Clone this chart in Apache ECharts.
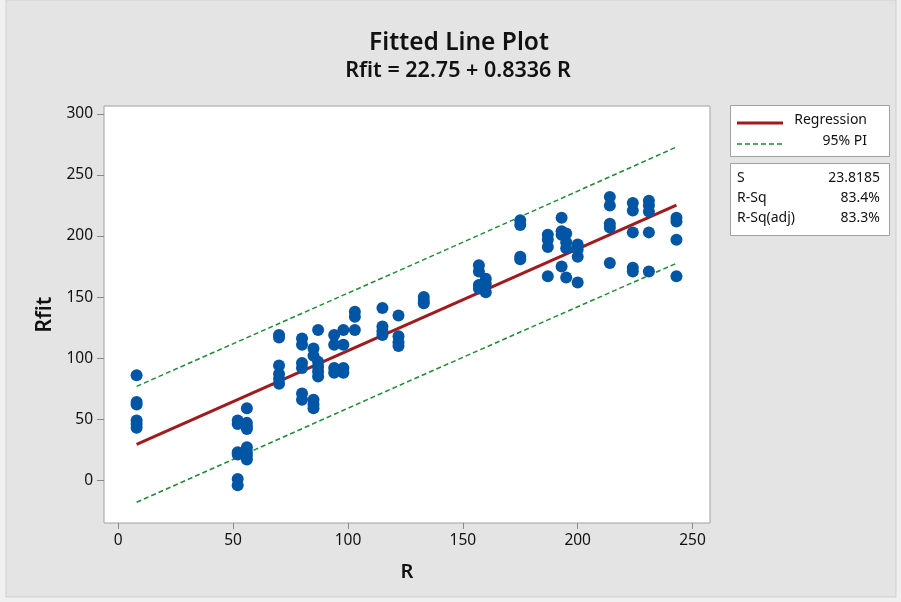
<!DOCTYPE html>
<html>
<head>
<meta charset="utf-8">
<title>Fitted Line Plot</title>
<script src="https://cdn.jsdelivr.net/npm/echarts@6/dist/echarts.min.js"></script>
<style>
  html, body { margin: 0; padding: 0; background: #f0f0f0; }
  #chart { width: 901px; height: 602px; }
</style>
</head>
<body>
<div id="chart"></div>
<script>
// Observed R levels and the Rfit responses recorded at each level
const rLevels = [8, 52, 56, 70, 80, 85, 87, 94, 98, 103, 115, 122, 133, 157, 160, 175, 187, 193, 195, 200, 214, 224, 231, 243];
const rfitAtLevel = [
  [86, 64, 62, 49, 46, 43],
  [49, 46, 23, 21, 1, -4],
  [59, 47, 44, 42, 27, 23, 20, 17],
  [119, 117, 94, 87, 83, 79],
  [116, 111, 96, 92, 71, 66],
  [108, 102, 66, 62, 59],
  [123, 97, 93, 89, 85],
  [119, 111, 92, 88],
  [123, 111, 92, 88],
  [138, 134, 123],
  [141, 126, 122, 119],
  [135, 118, 113, 110],
  [150, 147, 145],
  [176, 171, 160, 157],
  [165, 161, 154],
  [213, 209, 183, 181],
  [201, 197, 191, 167],
  [215, 204, 201, 175],
  [202, 195, 190, 166],
  [193, 189, 183, 162],
  [232, 225, 210, 207, 178],
  [227, 221, 203, 174, 171],
  [229, 225, 220, 203, 171],
  [215, 212, 197, 167]
];

// Fitted equation: Rfit = 22.75 + 0.8336 R
const intercept = 22.75;
const slope = 0.8336;
const fitRange = [8, 243];

// 95% prediction interval bounds
const piR = [8, 60, 125, 190, 243];
const piUpper = [76.9, 120.1, 174.0, 228.4, 272.9];
const piLower = [-18.0, 25.5, 79.9, 133.8, 177.7];

// Tick labels and summary statistics
const xTicks = [0, 50, 100, 150, 200, 250];
const yTicks = [0, 50, 100, 150, 200, 250, 300];
const statNames = ['S', 'R-Sq', 'R-Sq(adj)'];
const statValues = ['23.8185', '83.4%', '83.3%'];

const pointData = [];
rLevels.forEach((r, i) => rfitAtLevel[i].forEach(v => pointData.push([r, v])));
const fitData = fitRange.map(r => [r, intercept + slope * r]);
const upperData = piR.map((r, i) => [r, piUpper[i]]);
const lowerData = piR.map((r, i) => [r, piLower[i]]);

const FONT = 'Noto Sans';
const TXT = '#111111';
const RED = '#9e1b1e';
const GREEN = '#1e8c35';
const BLUE = '#0055a5';

const chart = echarts.init(document.getElementById('chart'), null, { renderer: 'canvas' });

const statTexts = [];
statNames.forEach((n, i) => {
  statTexts.push({ type: 'text', left: 737, top: 171 + i * 20,
    style: { text: n, font: '14px "' + FONT + '"', fill: TXT } });
  statTexts.push({ type: 'text', right: 901 - 880, top: 171 + i * 20,
    style: { text: statValues[i], font: '14px "' + FONT + '"', fill: TXT } });
});

chart.setOption({
  backgroundColor: '#f0f0f0',
  animation: false,
  textStyle: { fontFamily: FONT },
  grid: {
    left: 104, right: 191, top: 106, bottom: 79,
    show: true, backgroundColor: '#ffffff', borderColor: '#a0a0a0', borderWidth: 1
  },
  xAxis: {
    type: 'value', min: -6.2, max: 257.6,
    name: 'R', nameLocation: 'middle', nameGap: 39,
    nameTextStyle: { fontSize: 20, fontWeight: 600, color: TXT, fontFamily: FONT },
    splitLine: { show: false },
    axisLine: { show: false, onZero: false },
    axisTick: { show: true, length: 6, inside: false, customValues: xTicks, lineStyle: { color: '#8a8a8a' } },
    axisLabel: { customValues: xTicks, margin: 10, fontSize: 15.5, color: TXT, fontFamily: FONT }
  },
  yAxis: {
    type: 'value', min: -35, max: 306.5,
    name: 'Rfit', nameLocation: 'middle', nameGap: 48, nameRotate: 90,
    nameTextStyle: { fontSize: 21, fontWeight: 600, color: TXT, fontFamily: FONT },
    splitLine: { show: false },
    axisLine: { show: false, onZero: false },
    axisTick: { show: true, length: 7, inside: false, customValues: yTicks, lineStyle: { color: '#8a8a8a' } },
    axisLabel: { customValues: yTicks, margin: 11, fontSize: 15.5, color: TXT, fontFamily: FONT }
  },
  series: [
    {
      name: '95% PI upper', type: 'line', data: upperData, symbol: 'none', z: 2,
      lineStyle: { color: GREEN, width: 1.5, type: [5, 3] }
    },
    {
      name: '95% PI lower', type: 'line', data: lowerData, symbol: 'none', z: 2,
      lineStyle: { color: GREEN, width: 1.5, type: [5, 3] }
    },
    {
      name: 'Regression', type: 'line', data: fitData, symbol: 'none', z: 3,
      lineStyle: { color: RED, width: 3 }
    },
    {
      name: 'Rfit', type: 'scatter', data: pointData, symbol: 'circle', symbolSize: 12, z: 4,
      itemStyle: { color: BLUE, opacity: 1 }
    }
  ],
  graphic: [
    { type: 'rect', z: -10, silent: true, shape: { x: 6, y: 0, width: 890, height: 597 },
      style: { fill: '#e4e4e4', stroke: '#cfcfcf', lineWidth: 1 } },
    { type: 'text', z: 10, x: 459, y: 31,
      style: { text: 'Fitted Line Plot', font: '600 24.5px "' + FONT + '"', fill: TXT, align: 'center', textAlign: 'center' } },
    { type: 'text', z: 10, x: 458, y: 60,
      style: { text: 'Rfit = 22.75 + 0.8336 R', font: '600 21.5px "' + FONT + '"', fill: TXT, align: 'center', textAlign: 'center' } },
    // legend box
    { type: 'rect', shape: { x: 730.5, y: 105.5, width: 159, height: 51 },
      style: { fill: '#ffffff', stroke: '#a0a0a0', lineWidth: 1 } },
    { type: 'line', shape: { x1: 737, y1: 123, x2: 783, y2: 123 },
      style: { stroke: RED, lineWidth: 3 } },
    { type: 'text', right: 901 - 867, top: 113,
      style: { text: 'Regression', font: '14px "' + FONT + '"', fill: TXT } },
    { type: 'line', shape: { x1: 737, y1: 144, x2: 783, y2: 144 },
      style: { stroke: GREEN, lineWidth: 1.5, lineDash: [5, 3] } },
    { type: 'text', right: 901 - 867, top: 134,
      style: { text: '95% PI', font: '14px "' + FONT + '"', fill: TXT } },
    // statistics box
    { type: 'rect', shape: { x: 730.5, y: 163.5, width: 159, height: 72 },
      style: { fill: '#ffffff', stroke: '#a0a0a0', lineWidth: 1 } }
  ].concat(statTexts)
});
</script>
</body>
</html>
